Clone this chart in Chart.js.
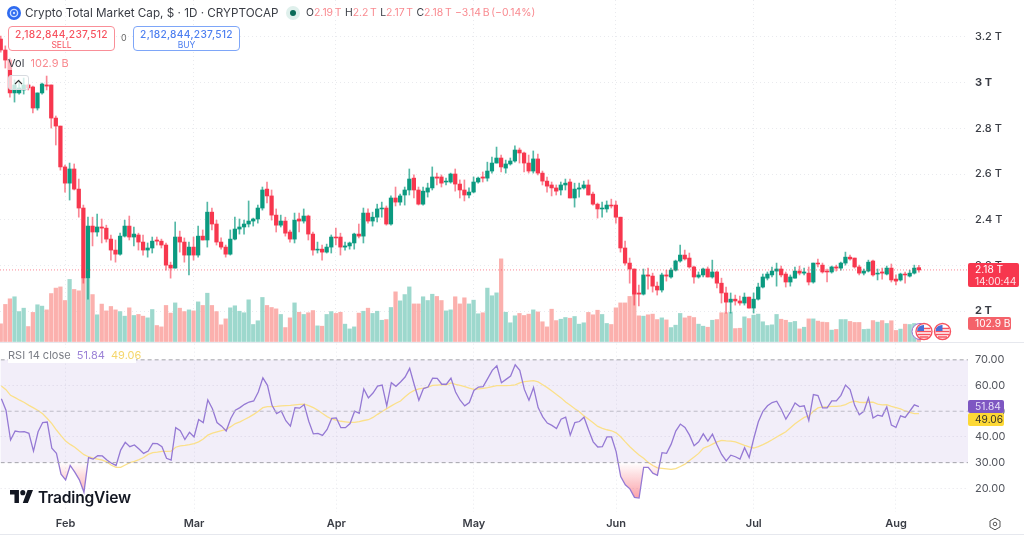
<!DOCTYPE html>
<html>
<head>
<meta charset="utf-8">
<title>Crypto Total Market Cap</title>
<script src="https://cdn.jsdelivr.net/npm/chart.js@4"></script>
<style>
  html, body { margin: 0; padding: 0; background: #fff; }
  body { width: 1024px; height: 538px; overflow: hidden; position: relative; font-family: Inter, "Noto Sans", sans-serif; color: #3a3d45; }
  canvas { position: absolute; left: 0; }
  #priceChart { top: 0; }
  #rsiChart { top: 343px; }
  .txt { position: absolute; white-space: nowrap; }
  .pale { color: #f98a90; }
  .box { position: absolute; box-sizing: border-box; background: #fff; border-radius: 4px; text-align: center; font-size: 10.2px; font-weight: 500; line-height: 12px; padding-top: 1px; letter-spacing: .3px; white-space: nowrap; }
  .box small { display: block; font-size: 8.5px; line-height: 10px; font-weight: 400; letter-spacing: 0; }
  .tag { position: absolute; left: 968px; box-sizing: border-box; padding-left: 7px; font-size: 10.2px; border-radius: 2px; white-space: nowrap; }
  .sep { position: absolute; left: 0; width: 1024px; height: 1px; background: #e6e8ee; }
</style>
</head>
<body>
<canvas id="priceChart" width="1024" height="343"></canvas>
<canvas id="rsiChart" width="1024" height="195"></canvas>
<div class="sep" style="top:342px"></div>
<div class="sep" style="top:534px"></div>

<!-- legend / header -->
<svg class="txt" style="left:7px;top:6px" width="14" height="14" viewBox="0 0 14 14"><circle cx="7" cy="7" r="7" fill="#2f6bf0"/><circle cx="7" cy="7" r="3.6" fill="none" stroke="#cfe0ff" stroke-width="1.4"/><circle cx="7" cy="7" r="1.2" fill="#cfe0ff"/></svg>
<div class="txt" style="left:25px;top:5px;font-size:11.7px;line-height:16px;">Crypto Total Market Cap, $ · 1D · CRYPTOCAP</div>
<svg class="txt" style="left:286px;top:6px" width="14" height="14" viewBox="0 0 14 14"><circle cx="7" cy="7" r="7" fill="#dff0ec"/><circle cx="7" cy="7" r="3" fill="#0b6b58"/></svg>
<div class="txt" style="left:306px;top:5px;font-size:10.4px;line-height:16px;word-spacing:-1.2px;">O<span class="pale">2.19 T</span> &nbsp;H<span class="pale">2.2 T</span> &nbsp;L<span class="pale">2.17 T</span> &nbsp;C<span class="pale">2.18 T</span> &nbsp;<span class="pale">−3.14 B (−0.14%)</span></div>

<div class="box" style="left:8px;top:26px;width:107px;height:25px;border:1px solid #f98f98;color:#f7525f;">2,182,844,237,512<small>SELL</small></div>
<div class="txt" style="left:121px;top:32px;font-size:9px;color:#666;">0</div>
<div class="box" style="left:133px;top:26px;width:107px;height:25px;border:1px solid #7ea6f8;color:#4d7ff0;">2,182,844,237,512<small>BUY</small></div>

<div class="txt" style="left:8px;top:56px;font-size:11px;line-height:14px;background:rgba(255,255,255,.6);padding-right:2px;">Vol &nbsp;<span class="pale" style="font-size:11px;">102.9 B</span></div>
<div class="txt" style="left:8px;top:75px;width:21px;height:15px;box-sizing:border-box;border:1px solid #d8dbe0;border-radius:3px;background:rgba(255,255,255,.75);"><svg width="19" height="13" viewBox="0 0 19 13" style="display:block"><path d="M6 8 L9.5 4.5 L13 8" fill="none" stroke="#333" stroke-width="1.1"/></svg></div>

<!-- right side labels -->
<div class="tag" style="top:263px;height:24px;width:51px;background:#f7374e;color:#fff;line-height:12px;">2.18 T<br><span style="opacity:.85;letter-spacing:-.2px">14:00:44</span></div>
<div class="tag" style="top:317px;height:13px;width:43px;background:#f4626a;color:#fff;line-height:13px;">102.9 B</div>
<div class="tag" style="top:400px;height:13px;width:36px;background:#7e57c2;color:#e8e0f8;line-height:13px;">51.84</div>
<div class="tag" style="top:413px;height:13px;width:36px;background:#fdd835;color:#33302a;line-height:13px;">49.06</div>

<!-- event flags -->
<svg class="txt" style="left:910px;top:322px" width="44" height="19" viewBox="0 0 44 19">
  <circle cx="10" cy="9.5" r="8" fill="#fff" stroke="#9a6fd0" stroke-width="1"/>
  <circle cx="14" cy="9.5" r="8" fill="#fff" stroke="#f7525f" stroke-width="1.4"/><path d="M7.5 6.500h13M7 9.500h14M7.500 12.500h13M9.500 15h9" stroke="#f7525f" stroke-width="1.500"/><path d="M9 4.600a7 7 0 0 1 5-1.600v6H7.200a7 7 0 0 1 1.800-4.400z" fill="#4a6fd6"/>
  <circle cx="32.500" cy="9.500" r="8" fill="#fff" stroke="#f7525f" stroke-width="1.400"/><path d="M26 6.500h13M25.500 9.500h14M26 12.500h13M28 15h9" stroke="#f7525f" stroke-width="1.500"/><path d="M27.500 4.600a7 7 0 0 1 5-1.600v6h-6.800a7 7 0 0 1 1.800-4.400z" fill="#4a6fd6"/>
</svg>

<div class="txt" style="left:8px;top:348px;height:15px;width:128px;line-height:14px;font-size:11px;background:#fff;color:#7b7e86;">RSI 14 close &nbsp;<span style="color:#9b82d6">51.84</span>&nbsp; <span style="color:#f5d66b">49.06</span></div>

<!-- watermark -->
<svg class="txt" style="left:10px;top:490px" width="23" height="13" viewBox="0 0 36 20"><path d="M14 20H7V7H0V0h14v20zM28 20h-8l7.500-20H36l-8 20z" fill="#131722"/><circle cx="20" cy="4" r="4" fill="#131722"/></svg>
<div class="txt" style="left:38px;top:487px;font-size:15.600px;line-height:21px;font-weight:600;color:#131722;letter-spacing:-.2px;">TradingView</div>

<!-- settings icon -->
<svg class="txt" style="left:988px;top:517px" width="14" height="14" viewBox="0 0 14 14"><path d="M7 1.200 12 4v6l-5 2.800L2 10V4z" fill="none" stroke="#555" stroke-width="1"/><circle cx="7" cy="7" r="1.800" fill="none" stroke="#555" stroke-width="1"/></svg>

<script>
// ---------- Data (Jan 18 - Aug 6, daily) ----------
const opens = [
  3.191,3.143,3.099,2.955,2.955,2.968,2.990,2.981,2.889,2.955,
  2.990,2.990,2.845,2.810,2.631,2.560,2.622,2.534,2.451,2.144,
  2.372,2.346,2.368,2.363,2.315,2.267,2.249,2.328,2.372,2.324,
  2.333,2.302,2.267,2.276,2.311,2.306,2.289,2.201,2.188,2.324,
  2.302,2.245,2.280,2.245,2.328,2.311,2.433,2.381,2.302,2.280,
  2.249,2.315,2.359,2.368,2.381,2.394,2.403,2.451,2.534,2.504,
  2.420,2.376,2.394,2.346,2.315,2.403,2.394,2.416,2.337,2.267,
  2.271,2.258,2.280,2.324,2.324,2.280,2.285,2.298,2.337,2.328,
  2.429,2.394,2.411,2.447,2.451,2.381,2.495,2.477,2.508,2.530,
  2.582,2.530,2.468,2.521,2.539,2.587,2.587,2.565,2.565,2.600,
  2.556,2.530,2.508,2.521,2.565,2.587,2.582,2.613,2.648,2.670,
  2.626,2.644,2.657,2.705,2.692,2.648,2.613,2.666,2.604,2.569,
  2.552,2.539,2.530,2.552,2.565,2.495,2.534,2.539,2.552,2.512,
  2.468,2.447,2.447,2.464,2.464,2.411,2.276,2.210,2.184,2.079,
  2.074,2.158,2.153,2.109,2.092,2.158,2.149,2.179,2.219,2.245,
  2.232,2.193,2.149,2.158,2.184,2.149,2.171,2.122,2.079,2.039,
  2.052,2.044,2.035,2.061,2.013,2.052,2.105,2.144,2.158,2.175,
  2.184,2.162,2.127,2.144,2.175,2.166,2.166,2.127,2.210,2.201,
  2.175,2.171,2.193,2.188,2.210,2.236,2.232,2.193,2.166,2.175,
  2.219,2.162,2.171,2.162,2.188,2.140,2.136,2.162,2.153,2.166,
  2.190
];
const closes = [
  3.143,3.099,2.955,2.990,2.977,2.990,2.977,2.889,2.955,2.994,
  2.985,2.845,2.810,2.631,2.560,2.622,2.534,2.451,2.144,2.372,
  2.346,2.368,2.363,2.315,2.267,2.249,2.328,2.372,2.324,2.337,
  2.302,2.267,2.276,2.306,2.306,2.289,2.201,2.188,2.324,2.302,
  2.245,2.280,2.245,2.328,2.311,2.433,2.381,2.302,2.280,2.249,
  2.315,2.359,2.368,2.381,2.394,2.403,2.451,2.530,2.504,2.420,
  2.376,2.394,2.341,2.315,2.398,2.394,2.416,2.337,2.267,2.271,
  2.258,2.280,2.324,2.320,2.280,2.285,2.298,2.337,2.328,2.429,
  2.394,2.411,2.447,2.451,2.381,2.495,2.477,2.504,2.530,2.578,
  2.530,2.468,2.525,2.539,2.587,2.582,2.560,2.569,2.600,2.556,
  2.530,2.508,2.521,2.565,2.582,2.582,2.613,2.648,2.670,2.631,
  2.644,2.657,2.705,2.692,2.648,2.613,2.666,2.604,2.569,2.547,
  2.539,2.525,2.552,2.560,2.495,2.534,2.539,2.552,2.508,2.468,
  2.447,2.451,2.464,2.460,2.411,2.276,2.210,2.184,2.074,2.074,
  2.158,2.153,2.109,2.092,2.158,2.153,2.179,2.219,2.245,2.228,
  2.193,2.149,2.158,2.184,2.149,2.171,2.122,2.079,2.039,2.052,
  2.044,2.035,2.061,2.013,2.052,2.105,2.149,2.162,2.175,2.184,
  2.158,2.127,2.149,2.175,2.166,2.171,2.127,2.210,2.206,2.171,
  2.171,2.193,2.188,2.210,2.236,2.228,2.193,2.166,2.175,2.214,
  2.158,2.166,2.166,2.188,2.136,2.131,2.162,2.158,2.166,2.188,
  2.180
];
const highs = [
  3.204,3.161,3.108,3.012,3.012,3.020,2.994,2.985,2.955,2.998,
  3.029,2.990,2.854,2.810,2.639,2.648,2.644,2.578,2.464,2.411,
  2.411,2.425,2.403,2.376,2.333,2.311,2.341,2.398,2.416,2.368,
  2.341,2.333,2.298,2.324,2.324,2.315,2.298,2.214,2.390,2.350,
  2.320,2.302,2.324,2.372,2.355,2.477,2.451,2.398,2.320,2.289,
  2.355,2.411,2.403,2.398,2.482,2.407,2.464,2.543,2.565,2.530,
  2.447,2.420,2.411,2.355,2.429,2.429,2.447,2.420,2.346,2.302,
  2.289,2.293,2.333,2.363,2.341,2.302,2.302,2.341,2.381,2.451,
  2.447,2.433,2.468,2.477,2.460,2.504,2.543,2.512,2.543,2.622,
  2.596,2.543,2.543,2.560,2.631,2.604,2.596,2.582,2.604,2.622,
  2.574,2.574,2.539,2.587,2.587,2.609,2.652,2.674,2.718,2.683,
  2.661,2.670,2.723,2.714,2.696,2.683,2.701,2.687,2.613,2.587,
  2.565,2.552,2.565,2.578,2.578,2.560,2.560,2.569,2.574,2.521,
  2.473,2.477,2.482,2.490,2.482,2.411,2.306,2.232,2.184,2.114,
  2.184,2.188,2.166,2.127,2.166,2.179,2.188,2.223,2.289,2.267,
  2.254,2.197,2.171,2.188,2.193,2.223,2.175,2.144,2.105,2.079,
  2.070,2.066,2.079,2.061,2.079,2.122,2.162,2.171,2.193,2.210,
  2.197,2.171,2.158,2.193,2.197,2.188,2.193,2.210,2.228,2.210,
  2.184,2.197,2.201,2.214,2.258,2.245,2.232,2.201,2.184,2.223,
  2.223,2.184,2.188,2.197,2.206,2.158,2.166,2.171,2.179,2.201,
  2.200
];
const lows = [
  3.134,3.064,2.937,2.915,2.950,2.950,2.968,2.867,2.880,2.950,
  2.968,2.801,2.727,2.617,2.521,2.486,2.530,2.411,2.122,2.052,
  2.285,2.328,2.298,2.302,2.223,2.214,2.245,2.324,2.311,2.285,
  2.267,2.245,2.236,2.254,2.289,2.276,2.179,2.144,2.188,2.258,
  2.214,2.158,2.223,2.236,2.311,2.280,2.355,2.289,2.271,2.236,
  2.245,2.311,2.337,2.337,2.368,2.372,2.385,2.442,2.473,2.398,
  2.346,2.368,2.328,2.302,2.298,2.346,2.385,2.311,2.245,2.254,
  2.223,2.254,2.254,2.289,2.245,2.267,2.271,2.271,2.320,2.298,
  2.385,2.372,2.390,2.411,2.376,2.376,2.460,2.464,2.464,2.508,
  2.495,2.464,2.464,2.499,2.530,2.552,2.543,2.552,2.560,2.525,
  2.495,2.482,2.495,2.517,2.560,2.565,2.569,2.604,2.648,2.609,
  2.604,2.639,2.652,2.648,2.609,2.604,2.604,2.596,2.552,2.521,
  2.504,2.508,2.508,2.530,2.495,2.455,2.499,2.534,2.508,2.464,
  2.407,2.411,2.433,2.451,2.385,2.258,2.201,2.122,2.026,2.022,
  2.070,2.096,2.083,2.070,2.083,2.131,2.144,2.175,2.214,2.223,
  2.188,2.122,2.144,2.149,2.149,2.144,2.101,2.035,1.991,1.991,
  2.026,2.026,2.026,2.013,1.991,2.048,2.101,2.136,2.149,2.109,
  2.149,2.105,2.109,2.144,2.158,2.158,2.114,2.122,2.193,2.166,
  2.127,2.166,2.175,2.179,2.201,2.223,2.188,2.158,2.158,2.171,
  2.153,2.136,2.140,2.158,2.127,2.114,2.131,2.122,2.149,2.162,
  2.170
];
// volume in billions
const volumes = [
  104,218,251,263,176,196,88,171,216,208,
  186,282,314,321,241,365,306,298,368,365,
  276,157,220,180,206,186,176,149,198,153,
  159,149,139,188,94,86,212,167,227,196,
  176,186,180,233,212,284,212,176,98,133,
  198,210,178,169,245,100,122,259,212,200,
  192,159,82,139,227,172,159,169,182,92,
  90,159,176,165,172,102,74,86,167,178,
  196,165,178,125,129,200,292,239,276,321,
  221,221,263,241,278,265,241,180,186,263,
  221,257,221,243,163,169,314,269,286,486,
  172,110,151,165,153,161,186,174,116,86,
  190,123,131,141,137,147,102,110,171,157,
  184,159,106,100,198,227,227,265,300,151,
  149,157,161,129,139,127,82,96,165,139,
  149,141,102,90,84,125,129,169,169,171,
  76,78,145,135,155,161,116,94,98,159,
  131,125,112,118,74,84,133,133,120,114,
  112,67,71,129,129,118,112,112,71,73,
  123,114,123,106,122,65,73,102,100,106,
  102.9
];
const rsiValues = [
  54.9,50.4,38.8,42.3,42.0,42.1,41.4,34.5,42.0,45.6,
  45.8,35.6,33.6,25.5,23.3,28.9,26.3,23.3,18.5,32.0,
  31.4,32.7,32.6,31.0,29.8,28.9,34.9,37.9,36.2,36.9,
  35.3,33.6,34.5,37.5,37.4,36.2,31.7,31.0,43.6,42.4,
  39.0,41.8,40.0,46.8,45.6,54.4,51.0,45.6,44.2,42.3,
  47.2,50.4,51.4,52.7,53.6,54.0,57.5,63.0,60.1,52.3,
  49.1,50.1,46.3,44.2,51.4,51.2,52.6,46.1,41.2,41.4,
  40.6,42.9,47.2,47.4,43.6,43.6,45.2,50.0,49.2,58.7,
  55.2,57.1,59.8,60.2,52.1,61.1,59.7,61.4,63.3,66.7,
  60.3,54.3,58.8,59.4,62.9,62.8,60.5,60.5,62.9,57.5,
  54.3,52.1,53.4,58.1,59.4,59.6,62.7,65.9,67.7,61.1,
  62.4,63.7,68.1,65.9,58.5,54.3,59.2,51.4,47.8,45.4,
  44.5,43.3,46.9,47.7,40.7,45.6,46.0,47.7,42.7,38.1,
  36.1,36.2,40.0,40.0,34.3,24.6,21.4,19.8,16.5,16.2,
  28.2,28.2,25.9,25.1,33.9,33.6,37.2,42.3,45.0,43.7,
  40.7,36.6,38.1,41.2,38.4,41.1,36.9,33.2,30.7,32.9,
  32.3,31.4,35.8,32.0,39.4,45.9,50.0,52.1,53.4,53.9,
  50.8,46.9,49.8,53.2,51.8,52.1,46.4,56.5,56.1,51.3,
  51.3,54.0,54.0,56.2,60.2,58.4,52.3,48.6,50.0,55.2,
  47.4,48.5,48.1,51.7,44.6,43.7,48.2,47.6,50.0,52.5,
  51.84
];
const rsiMa = [
  59.8,58.4,56.2,55.3,54.3,53.4,52.3,51.3,50.3,49.0,
  47.2,45.2,42.7,40.5,38.4,37.1,36.0,34.5,33.1,32.3,
  31.8,31.4,31.0,30.3,29.0,28.2,28.2,29.1,30.0,30.5,
  31.2,32.0,33.2,33.9,34.1,34.4,34.4,34.5,36.0,36.5,
  36.7,37.0,37.4,38.1,39.2,40.7,41.5,42.0,42.5,42.9,
  44.0,45.2,45.9,46.8,47.7,48.8,50.0,51.4,51.8,51.8,
  51.9,52.1,52.2,52.3,52.5,52.7,52.8,52.2,51.4,50.4,
  49.1,47.9,47.0,46.5,46.1,45.9,45.7,45.7,46.0,46.4,
  46.7,47.6,48.8,49.9,51.0,52.1,53.1,54.0,55.6,57.1,
  58.1,58.7,59.0,59.4,60.1,60.2,60.3,60.3,61.0,60.5,
  60.1,59.6,59.0,58.5,58.7,58.9,59.2,59.6,60.0,60.0,
  60.0,60.1,60.3,61.0,61.5,61.7,61.9,61.4,60.3,59.2,
  57.9,56.5,55.2,53.6,52.3,51.0,49.8,48.2,46.9,45.5,
  44.1,43.3,42.8,42.4,41.6,40.1,38.1,36.2,34.5,33.0,
  31.7,30.1,28.9,28.0,27.8,27.6,27.4,27.7,28.5,29.4,
  30.8,32.2,33.6,35.6,36.3,37.2,38.1,38.7,38.5,38.4,
  38.1,37.4,36.7,36.1,35.7,36.2,37.0,37.9,38.9,40.0,
  41.0,42.0,43.6,45.1,46.4,47.6,48.2,50.0,51.3,51.7,
  51.7,51.9,51.9,52.1,52.6,53.5,53.9,53.5,53.4,53.5,
  53.5,52.8,52.5,52.6,51.9,51.4,50.9,50.1,49.6,49.1,
  49.06
];
const monthLabels = ['Feb', 'Mar', 'Apr', 'May', 'Jun', 'Jul', 'Aug'];
const monthIndex = [14, 42, 73, 103, 134, 164, 195];
const priceTicks = [2, 2.2, 2.4, 2.6, 2.8, 3, 3.2];
const rsiTicks = [20, 30, 40, 50, 60, 70];
const lastPrice = 2.18;

// ---------- Shared settings ----------
const RED = '#f7374e', GREEN = '#0b9a80';
const X_MIN = -0.16, X_MAX = 210.7;
const AXIS_W = 56;
const FONT = 'Inter, "Noto Sans", sans-serif';
const isUp = i => closes[i] >= opens[i];
// keep label overhang out of the layout so both panes line up exactly
const noPad = s => { s.paddingTop = s.paddingBottom = s.paddingLeft = s.paddingRight = 0; };
const xAxis = {
  type: 'linear', min: X_MIN, max: X_MAX, offset: false,
  afterBuildTicks: s => { s.ticks = monthIndex.map(v => ({ value: v })); },
  grid: { color: '#e9eaee', drawTicks: false, lineWidth: 1, offset: false },
  border: { display: false, dash: [1, 3] }
};
const edgeLine = (value, color, dash) => ({
  type: 'line', yAxisID: 'y', order: 0,
  data: [{ x: X_MIN, y: value }, { x: X_MAX, y: value }],
  borderColor: color, borderWidth: 1, borderDash: dash, pointRadius: 0
});

// ---------- Price + volume pane ----------
new Chart(document.getElementById('priceChart'), {
  data: {
    datasets: [
      {
        type: 'bar', label: 'body', yAxisID: 'y', order: 1, grouped: false, barThickness: 3.6,
        data: opens.map((o, i) => ({ x: i, y: [o, closes[i]] })),
        backgroundColor: c => isUp(c.dataIndex) ? GREEN : RED
      },
      {
        type: 'bar', label: 'wick', yAxisID: 'y', order: 2, grouped: false, barThickness: 1,
        data: lows.map((l, i) => ({ x: i, y: [l, highs[i]] })),
        backgroundColor: c => isUp(c.dataIndex) ? 'rgba(11,154,128,.7)' : 'rgba(247,55,78,.6)'
      },
      {
        type: 'bar', label: 'volume', yAxisID: 'vol', order: 3, grouped: false, barThickness: 3.6,
        data: volumes.map((v, i) => ({ x: i, y: v })),
        backgroundColor: c => isUp(c.dataIndex) ? '#9dd8cd' : '#fbb0ad'
      },
      edgeLine(lastPrice, 'rgba(247,55,78,.6)', [1, 2])
    ]
  },
  options: {
    responsive: false, animation: false, devicePixelRatio: 1,
    layout: { padding: 0 },
    plugins: { legend: { display: false }, tooltip: { enabled: false } },
    scales: {
      x: { ...xAxis, afterFit: s => { s.height = 0; noPad(s); }, ticks: { display: false } },
      y: {
        position: 'right', min: 1.86, max: 3.362,
        afterFit: s => { s.width = AXIS_W; noPad(s); },
        afterBuildTicks: s => { s.ticks = priceTicks.map(v => ({ value: v })); },
        grid: { color: '#e9eaee', drawTicks: false },
        border: { display: false, dash: [1, 3] },
        ticks: {
          padding: 7, color: '#3a3d45',
          font: c => ({ family: FONT, size: 11, weight: c.tick && Number.isInteger(c.tick.value) ? '700' : '500' }),
          callback: v => v + ' T'
        }
      },
      vol: { display: false, min: -8.8, max: 2008 }
    }
  }
});

// ---------- RSI pane ----------
const bandShade = {
  id: 'bandShade',
  beforeDatasetsDraw(chart) {
    const { ctx, chartArea: a, scales: { y } } = chart;
    ctx.save();
    ctx.fillStyle = 'rgba(126,87,194,.1)';
    ctx.fillRect(a.left, y.getPixelForValue(70), a.width, y.getPixelForValue(30) - y.getPixelForValue(70));
    ctx.restore();
  }
};

const rsiChart = new Chart(document.getElementById('rsiChart'), {
  plugins: [bandShade],
  data: {
    datasets: [
      {
        type: 'line', label: 'RSI', order: 1,
        data: rsiValues.map((v, i) => ({ x: i, y: v })),
        borderColor: '#9579d4', borderWidth: 1.3, pointRadius: 0,
        fill: { target: { value: 30 }, above: 'rgba(0,0,0,0)', below: 'rgba(247,82,95,.3)' }
      },
      {
        type: 'line', label: 'RSI MA', order: 2,
        data: rsiMa.map((v, i) => ({ x: i, y: v })),
        borderColor: '#fbe08a', borderWidth: 1.3, pointRadius: 0
      },
      edgeLine(70, '#a3a3ab', [4, 3]),
      edgeLine(50, '#bdbcc6', [4, 3]),
      edgeLine(30, '#a3a3ab', [4, 3])
    ]
  },
  options: {
    responsive: false, animation: false, devicePixelRatio: 1,
    layout: { padding: 0 },
    plugins: { legend: { display: false }, tooltip: { enabled: false } },
    scales: {
      x: {
        ...xAxis,
        afterFit: s => { s.height = 26; noPad(s); },
        ticks: {
          padding: 5, color: '#3a3d45', maxRotation: 0, autoSkip: false,
          font: { family: FONT, size: 11, weight: '600' },
          callback: v => monthLabels[monthIndex.indexOf(v)]
        }
      },
      y: {
        position: 'right', min: 10.8, max: 76.3,
        afterFit: s => { s.width = AXIS_W; noPad(s); },
        afterBuildTicks: s => { s.ticks = rsiTicks.map(v => ({ value: v })); },
        grid: { color: c => c.tick && [30, 50, 70].includes(c.tick.value) ? 'rgba(0,0,0,0)' : '#e4e3ea', drawTicks: false },
        border: { display: false, dash: [1, 3] },
        ticks: {
          padding: 7, color: '#54575f',
          font: { family: FONT, size: 11 },
          callback: v => v.toFixed(2)
        }
      }
    }
  }
});

// red fade below the 30 line
const yScale = rsiChart.scales.y;
const fade = rsiChart.ctx.createLinearGradient(0, yScale.getPixelForValue(30), 0, yScale.getPixelForValue(16));
fade.addColorStop(0, 'rgba(247,82,95,0)');
fade.addColorStop(1, 'rgba(247,82,95,.55)');
rsiChart.data.datasets[0].fill.below = fade;
rsiChart.update('none');
</script>
</body>
</html>
